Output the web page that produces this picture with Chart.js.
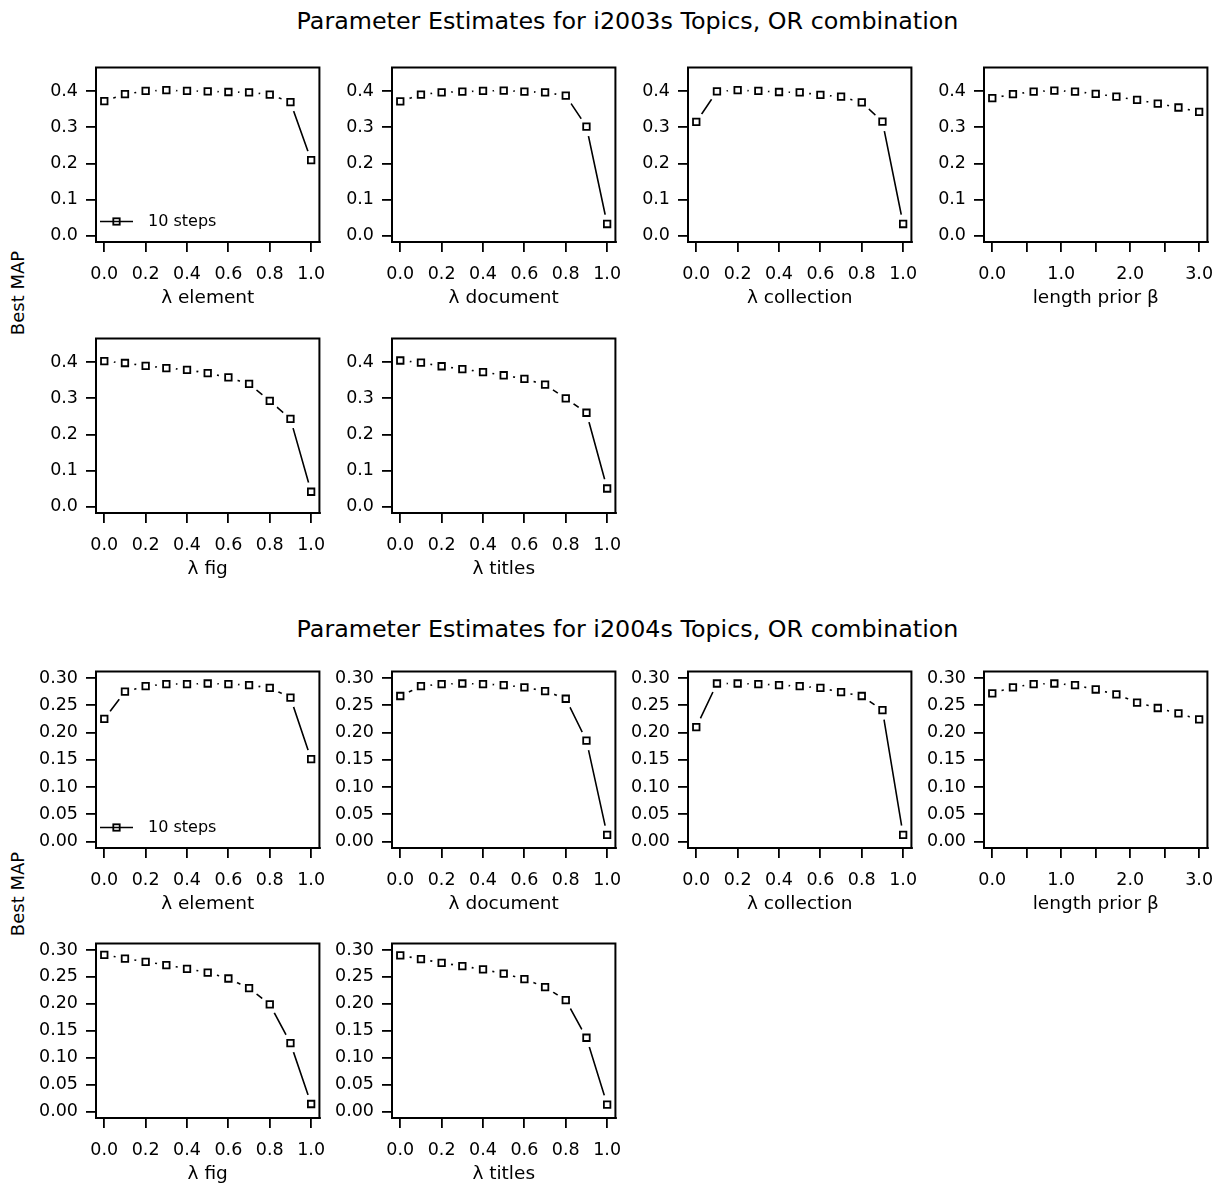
<!DOCTYPE html>
<html>
<head>
<meta charset="utf-8">
<script src="https://cdn.jsdelivr.net/npm/chart.js@4.4.1/dist/chart.umd.min.js"></script>
<style>
  html, body { margin: 0; padding: 0; background: #fff; }
  #page { position: relative; width: 1220px; height: 1186px; overflow: hidden; background: #fff;
          font-family: "DejaVu Sans", sans-serif; color: #000; }
  #page canvas { position: absolute; }
  .main-title { position: absolute; white-space: nowrap; line-height: 1; font-size: 23.8px;
                transform: translate(-50%, -50%); }
  .side-label { position: absolute; white-space: nowrap; line-height: 1; font-size: 18px;
                transform: translate(-50%, -50%) rotate(-90deg); }
</style>
</head>
<body>
<div id="page"></div>
<script>
// ---- parameter grids ----
const lambdaSteps = [0.0, 0.1, 0.2, 0.3, 0.4, 0.5, 0.6, 0.7, 0.8, 0.9, 1.0];
const betaSteps   = [0.0, 0.3, 0.6, 0.9, 1.2, 1.5, 1.8, 2.1, 2.4, 2.7, 3.0];

// ---- best MAP, i2003s topics ----
const mapElement2003    = [0.373, 0.392, 0.401, 0.403, 0.401, 0.400, 0.398, 0.397, 0.391, 0.370, 0.209];
const mapDocument2003   = [0.372, 0.391, 0.397, 0.399, 0.401, 0.402, 0.399, 0.397, 0.388, 0.302, 0.032];
const mapCollection2003 = [0.315, 0.400, 0.403, 0.401, 0.398, 0.397, 0.390, 0.385, 0.369, 0.316, 0.032];
const mapBeta2003       = [0.381, 0.392, 0.399, 0.402, 0.399, 0.393, 0.385, 0.376, 0.366, 0.355, 0.343];
const mapFig2003        = [0.403, 0.398, 0.390, 0.384, 0.379, 0.370, 0.358, 0.340, 0.293, 0.243, 0.041];
const mapTitles2003     = [0.405, 0.399, 0.389, 0.381, 0.373, 0.364, 0.354, 0.338, 0.300, 0.260, 0.050];

// ---- best MAP, i2004s topics ----
const mapElement2004    = [0.225, 0.275, 0.285, 0.289, 0.289, 0.290, 0.289, 0.287, 0.282, 0.264, 0.151];
const mapDocument2004   = [0.267, 0.285, 0.289, 0.290, 0.289, 0.287, 0.283, 0.276, 0.262, 0.185, 0.012];
const mapCollection2004 = [0.210, 0.290, 0.290, 0.289, 0.287, 0.285, 0.282, 0.274, 0.267, 0.241, 0.012];
const mapBeta2004       = [0.272, 0.283, 0.289, 0.290, 0.287, 0.279, 0.270, 0.255, 0.245, 0.235, 0.224];
const mapFig2004        = [0.291, 0.284, 0.278, 0.272, 0.265, 0.258, 0.247, 0.229, 0.199, 0.127, 0.014];
const mapTitles2004     = [0.290, 0.283, 0.276, 0.270, 0.264, 0.256, 0.246, 0.231, 0.207, 0.137, 0.013];

// ---- text ----
const blockTitles = ["Parameter Estimates for i2003s Topics, OR combination",
                     "Parameter Estimates for i2004s Topics, OR combination"];
const yAxisLabel = "Best MAP";
const legendText = "10 steps";
const xLabels = {
  element: "\u03bb element", document: "\u03bb document", collection: "\u03bb collection",
  beta: "length prior \u03b2", fig: "\u03bb fig", titles: "\u03bb titles"
};

// ---- layout ----
const FONT = '"DejaVu Sans", sans-serif';
const TICK_SIZE = 17.5, AXIS_TITLE_SIZE = 18.5, KEY_SIZE = 16;
const Y_W = 80, X_H = 70, PAD_T = 12, PAD_R = 12;
const GAP = 9.7;               // blank radius around each marker (type "b" style)
const colLeft = [96, 392, 688, 984];
const BOX_W = 229;
const rowBox = [{top: 61, h: 181}, {top: 332, h: 181}, {top: 665, h: 183}, {top: 937, h: 181}];

const lambdaAxis = {min: -0.04, max: 1.04, step: 0.2, fmt: v => v.toFixed(1)};
const betaAxis   = {min: -0.12, max: 3.12, step: 0.5,
                    fmt: v => Math.abs(v - Math.round(v)) < 1e-9 ? v.toFixed(1) : ''};
const yAxis2003  = {min: -0.018, max: 0.466, step: 0.1,  fmt: v => v.toFixed(1)};
const yAxis2004  = {min: -0.012, max: 0.312, step: 0.05, fmt: v => v.toFixed(2)};

const panels = [
  {row: 0, col: 0, xs: lambdaSteps, ys: mapElement2003,    xa: lambdaAxis, ya: yAxis2003, title: xLabels.element, legend: true},
  {row: 0, col: 1, xs: lambdaSteps, ys: mapDocument2003,   xa: lambdaAxis, ya: yAxis2003, title: xLabels.document},
  {row: 0, col: 2, xs: lambdaSteps, ys: mapCollection2003, xa: lambdaAxis, ya: yAxis2003, title: xLabels.collection},
  {row: 0, col: 3, xs: betaSteps,   ys: mapBeta2003,       xa: betaAxis,   ya: yAxis2003, title: xLabels.beta},
  {row: 1, col: 0, xs: lambdaSteps, ys: mapFig2003,        xa: lambdaAxis, ya: yAxis2003, title: xLabels.fig},
  {row: 1, col: 1, xs: lambdaSteps, ys: mapTitles2003,     xa: lambdaAxis, ya: yAxis2003, title: xLabels.titles},
  {row: 2, col: 0, xs: lambdaSteps, ys: mapElement2004,    xa: lambdaAxis, ya: yAxis2004, title: xLabels.element, legend: true},
  {row: 2, col: 1, xs: lambdaSteps, ys: mapDocument2004,   xa: lambdaAxis, ya: yAxis2004, title: xLabels.document},
  {row: 2, col: 2, xs: lambdaSteps, ys: mapCollection2004, xa: lambdaAxis, ya: yAxis2004, title: xLabels.collection},
  {row: 2, col: 3, xs: betaSteps,   ys: mapBeta2004,       xa: betaAxis,   ya: yAxis2004, title: xLabels.beta},
  {row: 3, col: 0, xs: lambdaSteps, ys: mapFig2004,        xa: lambdaAxis, ya: yAxis2004, title: xLabels.fig},
  {row: 3, col: 1, xs: lambdaSteps, ys: mapTitles2004,     xa: lambdaAxis, ya: yAxis2004, title: xLabels.titles}
];

// full box around the plotting region
const framePlugin = {
  id: 'frame',
  afterDraw(chart) {
    const {ctx, chartArea: a} = chart;
    ctx.save();
    ctx.strokeStyle = '#000';
    ctx.lineWidth = 2;
    ctx.strokeRect(a.left, a.top, a.right - a.left, a.bottom - a.top);
    ctx.restore();
  }
};

// bottom-left key: line with a hollow square, then its text
const stepsLegend = {
  id: 'stepsLegend',
  afterDraw(chart, args, opts) {
    if (!opts || !opts.display) return;
    const {ctx, chartArea: a} = chart;
    const y = a.bottom - 20.5;
    ctx.save();
    ctx.strokeStyle = '#000';
    ctx.lineWidth = 1.6;
    ctx.beginPath();
    ctx.moveTo(a.left + 4, y);
    ctx.lineTo(a.left + 37, y);
    ctx.stroke();
    ctx.lineWidth = 1.8;
    ctx.strokeRect(a.left + 20.5 - 3.2, y - 3.2, 6.4, 6.4);
    ctx.fillStyle = '#000';
    ctx.font = KEY_SIZE + 'px ' + FONT;
    ctx.textBaseline = 'middle';
    ctx.textAlign = 'left';
    ctx.fillText(opts.text, a.left + 52, y);
    ctx.restore();
  }
};

const page = document.getElementById('page');

function addText(cls, text, x, y) {
  const d = document.createElement('div');
  d.className = cls;
  d.textContent = text;
  d.style.left = x + 'px';
  d.style.top = y + 'px';
  page.appendChild(d);
}

addText('main-title', blockTitles[0], 627.5, 22);
addText('main-title', blockTitles[1], 627.5, 630);
addText('side-label', yAxisLabel, 18, 293);
addText('side-label', yAxisLabel, 18, 894);

function axisCommon() {
  return {
    grid: {display: true, drawOnChartArea: false, drawTicks: true, tickLength: 10,
           tickColor: '#000', tickWidth: 1.8, color: '#000', lineWidth: 1.8},
    border: {display: true, color: '#000', width: 2}
  };
}

function makePanel(p) {
  const box = rowBox[p.row];
  const left = colLeft[p.col];
  const w = Y_W + BOX_W + PAD_R;
  const h = PAD_T + box.h + X_H;
  const canvas = document.createElement('canvas');
  canvas.width = w; canvas.height = h;
  canvas.style.width = w + 'px'; canvas.style.height = h + 'px';
  canvas.style.left = (left - Y_W) + 'px';
  canvas.style.top = (box.top - PAD_T) + 'px';
  page.appendChild(canvas);

  const pts = p.xs.map((x, i) => ({x: x, y: p.ys[i]}));

  new Chart(canvas, {
    type: 'line',
    data: {
      datasets: [
        // connecting line
        {data: pts, borderColor: '#000', borderWidth: 1.6, pointRadius: 0, tension: 0,
         fill: false, order: 3},
        // white discs open a gap in the line around every point
        {data: pts, showLine: false, pointStyle: 'circle', pointRadius: GAP,
         pointBackgroundColor: '#fff', pointBorderWidth: 0, pointBorderColor: '#fff', order: 2},
        // hollow square markers
        {data: pts, showLine: false, pointStyle: 'rect', pointRadius: 4.6,
         pointBackgroundColor: 'rgba(0,0,0,0)', pointBorderColor: '#000', pointBorderWidth: 1.8, order: 1}
      ]
    },
    options: {
      responsive: false,
      animation: false,
      events: [],
      devicePixelRatio: 1,
      layout: {padding: {left: 0, right: PAD_R, top: PAD_T, bottom: 0}},
      plugins: {
        legend: {display: false},
        tooltip: {enabled: false},
        stepsLegend: {display: !!p.legend, text: legendText}
      },
      scales: {
        x: Object.assign(axisCommon(), {
          type: 'linear', position: 'bottom', z: 1,
          min: p.xa.min, max: p.xa.max,
          afterFit(s) { s.height = X_H; },
          ticks: {stepSize: p.xa.step, includeBounds: false, autoSkip: false, maxRotation: 0,
                  minRotation: 0, padding: 11.5, color: '#000', font: {family: FONT, size: TICK_SIZE},
                  callback: v => p.xa.fmt(v)},
          title: {display: true, text: p.title, color: '#000', font: {family: FONT, size: AXIS_TITLE_SIZE},
                  padding: {top: 0, bottom: 3}}
        }),
        y: Object.assign(axisCommon(), {
          type: 'linear', position: 'left', z: 1,
          min: p.ya.min, max: p.ya.max,
          afterFit(s) { s.width = Y_W; },
          ticks: {stepSize: p.ya.step, includeBounds: false, autoSkip: false, padding: 8,
                  color: '#000', font: {family: FONT, size: TICK_SIZE},
                  callback: v => p.ya.fmt(v)}
        })
      }
    },
    plugins: [framePlugin, stepsLegend]
  });
}

panels.forEach(makePanel);
</script>
</body>
</html>
